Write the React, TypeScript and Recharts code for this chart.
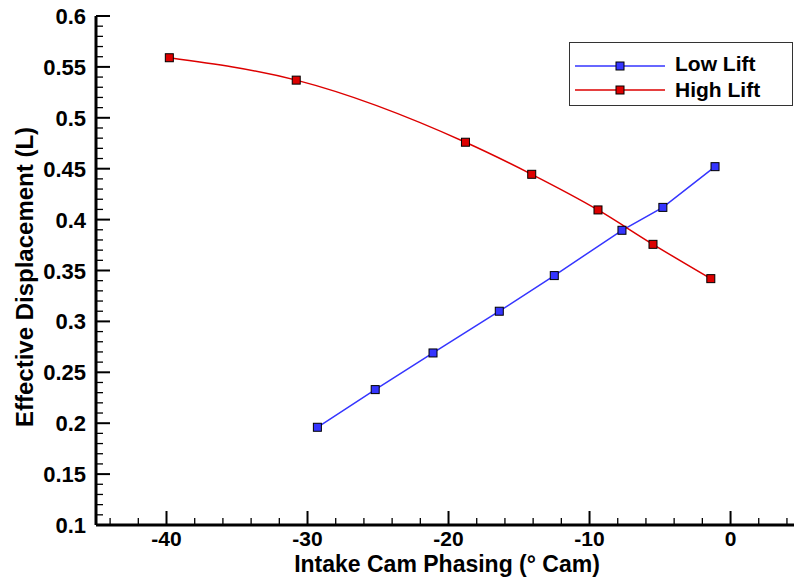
import React from 'react';
import { LineChart, Line, XAxis, YAxis, Legend, Label } from 'recharts';

// Low Lift series (intake cam phasing, effective displacement)
const lowLiftX = [-29.3, -25.2, -21.1, -16.4, -12.5, -7.7, -4.8, -1.1];
const lowLiftY = [0.196, 0.233, 0.269, 0.31, 0.345, 0.3895, 0.412, 0.452];

// High Lift series
const highLiftX = [-39.8, -30.8, -18.8, -14.1, -9.4, -5.5, -1.4];
const highLiftY = [0.559, 0.537, 0.476, 0.4445, 0.4095, 0.3757, 0.342];

const xMajorTicks = [-40, -30, -20, -10, 0];
const xMinorTicks = [-44, -42, -38, -36, -34, -32, -28, -26, -24, -22, -18, -16, -14, -12, -8, -6, -4, -2, 2, 4];
const yMajorTicks = [0.1, 0.15, 0.2, 0.25, 0.3, 0.35, 0.4, 0.45, 0.5, 0.55, 0.6];

const lowData = lowLiftX.map((x, i) => ({ x, y: lowLiftY[i] }));
const highData = highLiftX.map((x, i) => ({ x, y: highLiftY[i] }));

// minor y ticks: four between each pair of majors
const yMinorTicks: number[] = [];
for (let i = 0; i < yMajorTicks.length - 1; i++) {
  for (let k = 1; k < 5; k++) {
    yMinorTicks.push(+(yMajorTicks[i] + (k * 0.01)).toFixed(3));
  }
}

const FONT = '"Liberation Sans", Arial, Helvetica, sans-serif';
const BLUE = '#3535ff';
const RED = '#dd0000';

const isMajor = (list: number[], v: number) => list.some((m) => Math.abs(m - v) < 1e-6);

const XTick = (props: any) => {
  const { x, y, payload } = props;
  const major = isMajor(xMajorTicks, payload.value);
  return (
    <g>
      <line x1={x} x2={x} y1={y} y2={y - (major ? 14 : 7)} stroke="#000" strokeWidth={major ? 2 : 1.3} />
      {major && (
        <text x={x} y={y + 21} textAnchor="middle" fontFamily={FONT} fontWeight="bold" fontSize={21} fill="#000">
          {payload.value}
        </text>
      )}
    </g>
  );
};

const YTick = (props: any) => {
  const { x, y, payload } = props;
  const major = isMajor(yMajorTicks, payload.value);
  return (
    <g>
      <line x1={x} x2={x + (major ? 14 : 7)} y1={y} y2={y} stroke="#000" strokeWidth={major ? 2 : 1.3} />
      {major && (
        <text x={x - 10} y={y + 8} textAnchor="end" fontFamily={FONT} fontWeight="bold" fontSize={22} fill="#000">
          {String(payload.value)}
        </text>
      )}
    </g>
  );
};

const square = (color: string) => (props: any) => {
  const { cx, cy, index } = props;
  if (cx == null || cy == null) return <g key={`n-${index}`} />;
  return <rect key={`d-${index}`} x={cx - 4} y={cy - 4} width={8} height={8} fill={color} stroke="#000" strokeWidth={1} />;
};

const renderLegend = () => (
  <svg width={226} height={66}>
    <rect x={0.5} y={0.5} width={223} height={63} fill="#fff" stroke="#333" strokeWidth={1} />
    <line x1={6} x2={96} y1={24} y2={24} stroke={BLUE} strokeWidth={1.5} />
    <rect x={47} y={20} width={8} height={8} fill={BLUE} stroke="#000" strokeWidth={1} />
    <text x={106} y={29} fontFamily={FONT} fontWeight="bold" fontSize={21} fill="#000">Low Lift</text>
    <line x1={6} x2={96} y1={48} y2={48} stroke={RED} strokeWidth={1.5} />
    <rect x={47} y={44} width={8} height={8} fill={RED} stroke="#000" strokeWidth={1} />
    <text x={106} y={55} fontFamily={FONT} fontWeight="bold" fontSize={21} fill="#000">High Lift</text>
  </svg>
);

export default function App() {
  return (
    <div style={{ position: 'absolute', left: 0, top: 0, width: 794, height: 577, background: '#fff' }}>
      <LineChart width={794} height={577} margin={{ top: 16, right: 0, bottom: 0, left: 0 }}>
        <XAxis
          dataKey="x"
          type="number"
          domain={[-45, 4.5]}
          ticks={[...xMajorTicks, ...xMinorTicks].sort((a, b) => a - b)}
          interval={0}
          height={52}
          tickSize={0}
          tickMargin={0}
          tickLine={false}
          axisLine={{ stroke: '#000', strokeWidth: 3 }}
          tick={<XTick />}
          allowDataOverflow
        >
          <Label
            content={() => (
              <text x={447} y={571.5} textAnchor="middle" fontFamily={FONT} fontWeight="bold" fontSize={23} fill="#000">
                Intake Cam Phasing (° Cam)
              </text>
            )}
          />
        </XAxis>
        <YAxis
          type="number"
          domain={[0.1, 0.6]}
          ticks={[...yMajorTicks, ...yMinorTicks].sort((a, b) => a - b)}
          interval={0}
          width={96}
          tickSize={0}
          tickMargin={0}
          tickLine={false}
          axisLine={{ stroke: '#000', strokeWidth: 3 }}
          tick={<YTick />}
          allowDataOverflow
        >
          <Label
            content={() => (
              <text
                x={33}
                y={277}
                transform="rotate(-90 33 277)"
                textAnchor="middle"
                fontFamily={FONT}
                fontWeight="bold"
                fontSize={24}
                fill="#000"
              >
                Effective Displacement (L)
              </text>
            )}
          />
        </YAxis>
        <Legend
          layout="horizontal"
          verticalAlign="middle"
          align="center"
          content={renderLegend}
          wrapperStyle={{ position: 'absolute', left: 569, top: 42, width: 226, height: 66 }}
        />
        <Line
          data={lowData}
          dataKey="y"
          name="Low Lift"
          type="linear"
          stroke={BLUE}
          strokeWidth={1.5}
          dot={square(BLUE)}
          activeDot={false}
          isAnimationActive={false}
        />
        <Line
          data={highData}
          dataKey="y"
          name="High Lift"
          type="monotone"
          stroke={RED}
          strokeWidth={1.5}
          dot={square(RED)}
          activeDot={false}
          isAnimationActive={false}
        />
      </LineChart>
    </div>
  );
}
